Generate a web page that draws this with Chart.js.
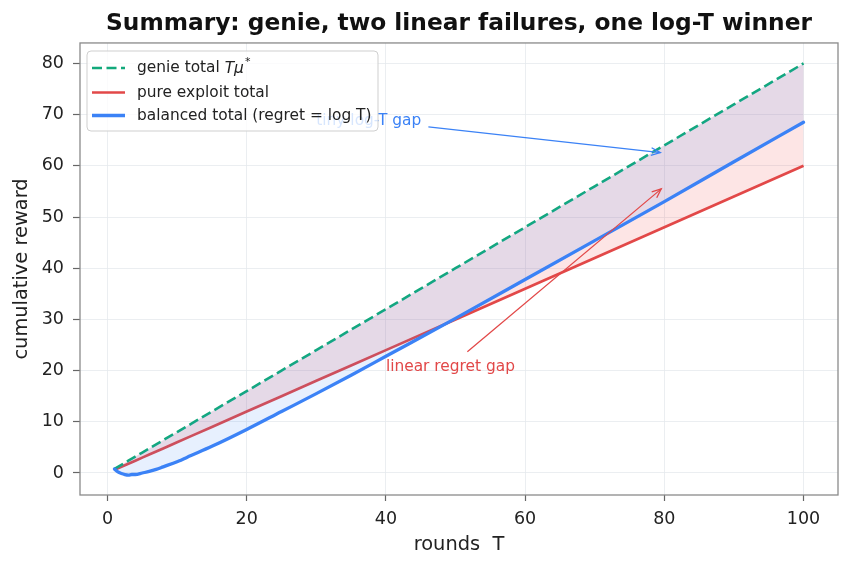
<!DOCTYPE html>
<html>
<head>
<meta charset="utf-8">
<script src="https://cdn.jsdelivr.net/npm/chart.js@4/dist/chart.umd.min.js"></script>
<style>
  html, body { margin: 0; padding: 0; background: #fff; }
  #wrap { width: 852px; height: 569px; }
</style>
</head>
<body>
<div id="wrap"><canvas id="chart_summary" width="852" height="569"></canvas></div>
<script>
// values
var rounds = [1, 1.5, 2, 2.5, 3, 3.5, 4, 5, 6, 7, 8, 10, 12, 15, 20, 25, 30, 35, 40, 50, 60, 70, 80, 90, 100];
var genieTotal = [0.8, 1.2, 1.6, 2, 2.4, 2.8, 3.2, 4, 4.8, 5.6, 6.4, 8, 9.6, 12, 16, 20, 24, 28, 32, 40, 48, 56, 64, 72, 80];
var exploitTotal = [0.6, 0.9, 1.2, 1.5, 1.8, 2.1, 2.4, 3, 3.6, 4.2, 4.8, 6, 7.2, 9, 12, 15, 18, 21, 24, 30, 36, 42, 48, 54, 60];
var balancedTotal = [0.8, 0.2, -0.1, -0.3, -0.4, -0.3, -0.3, 0, 0.3, 0.7, 1.2, 2.2, 3.4, 5.2, 8.5, 12, 15.5, 19.1, 22.8, 30.2, 37.8, 45.4, 53, 60.8, 68.5];

var xTicks = [0, 20, 40, 60, 80, 100];
var yTicks = [0, 10, 20, 30, 40, 50, 60, 70, 80];

var noteText = ['tiny log-T gap', 'linear regret gap'];
var noteAt = [[30, 68], [40, 20]];
var arrowFrom = [[46.1, 67.6], [51.7, 23.7]];
var arrowTo = [[80, 62.5], [80, 56]];

var green = '#12a97b';
var red = '#e24848';
var blue = '#3b82f6';
var font = "'DejaVu Sans', sans-serif";

function pts(ys) {
  var out = [];
  for (var i = 0; i < rounds.length; i++) out.push({x: rounds[i], y: ys[i]});
  return out;
}

// open "->" arrow, tip pulled back a little like matplotlib's shrink
function arrow(ctx, x0, y0, x1, y1, color) {
  var ang = Math.atan2(y1 - y0, x1 - x0);
  x1 -= 4 * Math.cos(ang);
  y1 -= 4 * Math.sin(ang);
  var hl = 10, hw = 0.4;
  ctx.strokeStyle = color;
  ctx.lineWidth = 1.3;
  ctx.beginPath();
  ctx.moveTo(x0, y0);
  ctx.lineTo(x1, y1);
  ctx.stroke();
  ctx.beginPath();
  ctx.moveTo(x1 - hl * Math.cos(ang - hw), y1 - hl * Math.sin(ang - hw));
  ctx.lineTo(x1, y1);
  ctx.lineTo(x1 - hl * Math.cos(ang + hw), y1 - hl * Math.sin(ang + hw));
  ctx.stroke();
}

var overlay = {
  id: 'overlay',
  afterDraw: function (chart) {
    var ctx = chart.ctx, a = chart.chartArea, x = chart.scales.x, y = chart.scales.y;
    ctx.save();
    // axes frame
    ctx.strokeStyle = '#8a8a8a';
    ctx.lineWidth = 1.3;
    ctx.strokeRect(a.left, a.top, a.right - a.left, a.bottom - a.top);

    // annotations
    var colors = [blue, red];
    ctx.font = '15.4px ' + font;
    ctx.textAlign = 'left';
    ctx.textBaseline = 'alphabetic';
    for (var i = 0; i < noteText.length; i++) {
      ctx.fillStyle = colors[i];
      ctx.fillText(noteText[i], x.getPixelForValue(noteAt[i][0]), y.getPixelForValue(noteAt[i][1]));
      arrow(ctx, x.getPixelForValue(arrowFrom[i][0]), y.getPixelForValue(arrowFrom[i][1]),
            x.getPixelForValue(arrowTo[i][0]), y.getPixelForValue(arrowTo[i][1]), colors[i]);
    }

    // legend
    var lx = 87, ly = 51, lw = 291, lh = 80;
    ctx.beginPath();
    ctx.roundRect(lx, ly, lw, lh, 4);
    ctx.fillStyle = 'rgba(255,255,255,0.8)';
    ctx.fill();
    ctx.strokeStyle = '#cfcfcf';
    ctx.lineWidth = 1;
    ctx.stroke();

    var rows = [68, 92.5, 115.5];
    var styles = [[green, 2.6, [10, 4.5]], [red, 2.6, []], [blue, 3.3, []]];
    for (var j = 0; j < 3; j++) {
      ctx.strokeStyle = styles[j][0];
      ctx.lineWidth = styles[j][1];
      ctx.setLineDash(styles[j][2]);
      ctx.beginPath();
      ctx.moveTo(92, rows[j]);
      ctx.lineTo(125, rows[j]);
      ctx.stroke();
    }
    ctx.setLineDash([]);
    ctx.fillStyle = '#222';
    ctx.textBaseline = 'middle';
    ctx.font = '15.4px ' + font;
    var tx = 137;
    ctx.fillText('genie total ', tx, rows[0]);
    var w = ctx.measureText('genie total ').width;
    ctx.font = 'italic 15.4px ' + font;
    ctx.fillText('T\u03bc', tx + w, rows[0] + 1);
    var w2 = ctx.measureText('T\u03bc').width;
    ctx.font = '11px ' + font;
    ctx.fillText('*', tx + w + w2 + 1, rows[0] - 6);
    ctx.font = '15.4px ' + font;
    ctx.fillText('pure exploit total', tx, rows[1]);
    ctx.fillText('balanced total (regret = log T)', tx, rows[2]);
    ctx.restore();
  }
};

function make_chart() {
  var ctx = document.getElementById('chart_summary').getContext('2d');
  return new Chart(ctx, {
    type: 'line',
    data: {
      datasets: [{
        label: 'genie total Tμ*',
        data: pts(genieTotal),
        borderColor: green,
        borderWidth: 2.6,
        borderDash: [10, 4.5],
        pointRadius: 0,
        fill: false,
        order: 1
      }, {
        label: 'pure exploit total',
        data: pts(exploitTotal),
        borderColor: red,
        borderWidth: 2.7,
        backgroundColor: 'rgba(239,68,68,0.14)',
        pointRadius: 0,
        fill: 0,
        order: 2
      }, {
        label: 'balanced total (regret = log T)',
        data: pts(balancedTotal),
        borderColor: blue,
        borderWidth: 3.3,
        backgroundColor: 'rgba(59,130,246,0.12)',
        pointRadius: 0,
        cubicInterpolationMode: 'monotone',
        borderCapStyle: 'round',
        fill: 0,
        order: 0
      }]
    },
    options: {
      responsive: false,
      animation: false,
      layout: { padding: { left: 0, right: 14, top: 0, bottom: 0 } },
      plugins: {
        legend: { display: false },
        tooltip: { enabled: false },
        title: {
          display: true,
          fullSize: false,
          text: 'Summary: genie, two linear failures, one log-T winner',
          color: '#111',
          font: { family: font, size: 23.3, weight: 'bold' },
          padding: { top: 9.5, bottom: 5.5 }
        }
      },
      scales: {
        x: {
          type: 'linear',
          min: -3.95,
          max: 104.95,
          afterBuildTicks: function (s) { s.ticks = xTicks.map(function (v) { return {value: v}; }); },
          afterFit: function (s) { s.height = 74; },
          grid: { color: '#e6eaee', lineWidth: 0.8, tickLength: 6, tickColor: '#666', tickWidth: 1.2 },
          border: { display: false },
          ticks: { color: '#222', font: { family: font, size: 17.5 }, padding: 8, maxRotation: 0 },
          title: { display: true, text: 'rounds  T', color: '#222', font: { family: font, size: 19.4 }, padding: { top: 0, bottom: 12 } }
        },
        y: {
          type: 'linear',
          min: -4.3,
          max: 84,
          afterBuildTicks: function (s) { s.ticks = yTicks.map(function (v) { return {value: v}; }); },
          afterFit: function (s) { s.width = 80; },
          grid: { color: '#e6eaee', lineWidth: 0.8, tickLength: 7, tickColor: '#666', tickWidth: 1.2 },
          border: { display: false },
          ticks: { color: '#222', font: { family: font, size: 17.5 }, padding: 9 },
          title: { display: true, text: 'cumulative reward', color: '#222', font: { family: font, size: 19.4 }, padding: { top: 10.4, bottom: 0 } }
        }
      }
    },
    plugins: [overlay]
  });
}

var chart = make_chart();
</script>
</body>
</html>
